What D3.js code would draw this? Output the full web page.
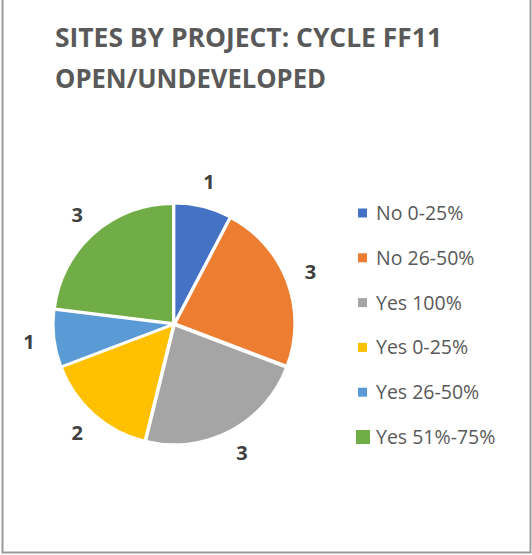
<!DOCTYPE html>
<html>
<head>
<meta charset="utf-8">
<script src="https://cdn.jsdelivr.net/npm/d3@7/dist/d3.min.js"></script>
<style>
  html, body { margin: 0; padding: 0; background: #fff; }
  svg { display: block; }
</style>
</head>
<body>
<script>
// Site counts per project category
const categories = ["No 0-25%", "No 26-50%", "Yes 100%", "Yes 0-25%", "Yes 26-50%", "Yes 51%-75%"];
const siteCounts = [1, 3, 3, 2, 1, 3];
const sliceColors = ["#4472C4", "#ED7D31", "#A5A5A5", "#FFC000", "#5B9BD5", "#70AD47"];
const titleLines = ["SITES BY PROJECT: CYCLE FF11", "OPEN/UNDEVELOPED"];

const W = 532, H = 555;
const svg = d3.select("body").append("svg").attr("width", W).attr("height", H);

// Chart frame: left, right and bottom edges
svg.append("path")
  .attr("d", `M2.5,0 V552.5 H530.5 V0`)
  .attr("fill", "none")
  .attr("stroke", "#9a9a9a")
  .attr("stroke-width", 2);

// Title
const title = svg.append("g").attr("font-family", "'Open Sans', sans-serif")
  .attr("font-weight", "bold").attr("font-size", 27).attr("fill", "#595959");
title.selectAll("text").data(titleLines).join("text")
  .attr("x", 55)
  .attr("y", (d, i) => 47 + i * 41)
  .attr("textLength", (d, i) => i === 0 ? 387 : 271)
  .attr("lengthAdjust", "spacingAndGlyphs")
  .text(d => d);

// Pie
const cx = 174, cy = 324, R = 119;
const pie = d3.pie().sort(null).value(d => d);
const arcs = pie(siteCounts);
const arc = d3.arc().innerRadius(0).outerRadius(R);
const labelArc = d3.arc().innerRadius(146).outerRadius(146);
const explode = 1.5;

const g = svg.append("g").attr("transform", `translate(${cx},${cy})`);
g.selectAll("path.slice").data(arcs).join("path")
  .attr("class", "slice")
  .attr("transform", d => {
    const a = (d.startAngle + d.endAngle) / 2;
    return `translate(${explode * Math.sin(a)},${-explode * Math.cos(a)})`;
  })
  .attr("d", arc)
  .attr("fill", (d, i) => sliceColors[i])
  .attr("stroke", "#fff")
  .attr("stroke-width", 2)
  .attr("stroke-linejoin", "round");

// Value labels outside the slices
g.selectAll("text.val").data(arcs).join("text")
  .attr("class", "val")
  .attr("transform", d => `translate(${labelArc.centroid(d)})`)
  .attr("text-anchor", "middle")
  .attr("dy", "0.36em")
  .attr("font-family", "'Open Sans', sans-serif")
  .attr("font-weight", "bold")
  .attr("font-size", 20)
  .attr("fill", "#404040")
  .text(d => d.data);

// Legend
const legendY = d3.scalePoint().domain(categories).range([213, 437]);
const legend = svg.append("g");
const items = legend.selectAll("g").data(categories).join("g")
  .attr("transform", d => `translate(0,${legendY(d)})`);
items.append("rect")
  .attr("x", (d, i) => i === categories.length - 1 ? 356 : 358)
  .attr("y", (d, i) => i === categories.length - 1 ? -7 : -4.5)
  .attr("width", (d, i) => i === categories.length - 1 ? 14 : 9)
  .attr("height", (d, i) => i === categories.length - 1 ? 14 : 9)
  .attr("fill", (d, i) => sliceColors[i]);
items.append("text")
  .attr("x", 376)
  .attr("dy", "0.36em")
  .attr("font-family", "'Open Sans', sans-serif")
  .attr("font-size", 19.5)
  .attr("fill", "#595959")
  .text(d => d);
</script>
</body>
</html>
